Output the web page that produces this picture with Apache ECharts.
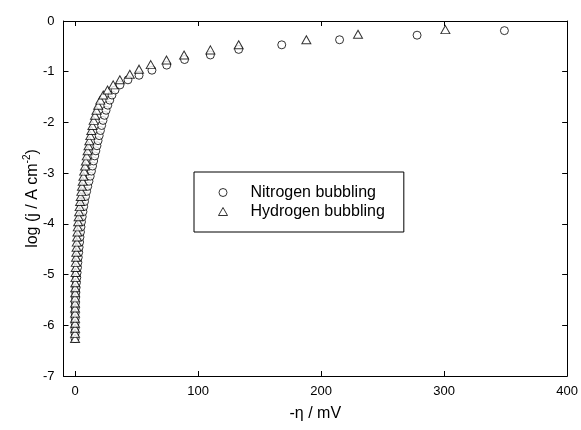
<!DOCTYPE html>
<html>
<head>
<meta charset="utf-8">
<script src="https://cdn.jsdelivr.net/npm/echarts@6/dist/echarts.min.js"></script>
<style>
  html, body { margin: 0; padding: 0; background: #fff; }
  #main { width: 581px; height: 430px; }
</style>
</head>
<body>
<div id="main"></div>
<script>
// -eta (mV) and log j
var nitrogenEta = [0, 0, 0, 0, 0.1, 0.1, 0.2, 0.3, 0.4, 0.6,
  0.8, 1.1, 1.4, 1.7, 2.0, 2.3, 2.6, 3.0, 3.3, 3.7,
  4.0, 4.4, 4.8, 5.2, 5.8, 6.4, 7.0, 7.7, 8.5, 9.4,
  10.3, 11.3, 12.3, 13.3, 14.2, 15.1, 16.0, 16.9, 17.8, 18.7,
  19.6, 20.6, 21.6, 22.7, 23.9, 25.2, 26.6, 28.2, 30.0, 32.5,
  36.5, 43, 52, 62.5, 74.5, 89, 110, 133, 168, 215, 278, 349];
var nitrogenLogJ = [-6.26, -6.16, -6.06, -5.96, -5.86, -5.76, -5.66, -5.56, -5.46, -5.36,
  -5.26, -5.16, -5.06, -4.96, -4.86, -4.76, -4.66, -4.56, -4.46, -4.36,
  -4.26, -4.16, -4.06, -3.96, -3.86, -3.76, -3.66, -3.56, -3.46, -3.36,
  -3.26, -3.16, -3.06, -2.96, -2.86, -2.76, -2.66, -2.56, -2.46, -2.36,
  -2.26, -2.16, -2.06, -1.96, -1.86, -1.76, -1.66, -1.56, -1.46, -1.36,
  -1.26, -1.16, -1.07, -0.97, -0.87, -0.76, -0.67, -0.56, -0.47, -0.37, -0.28, -0.19];

var hydrogenEta = [0, 0, 0, 0, 0, 0, 0, 0, 0, 0.1,
  0.1, 0.2, 0.3, 0.4, 0.5, 0.6, 0.8, 1.0, 1.2, 1.4,
  1.6, 1.9, 2.2, 2.5, 2.9, 3.3, 3.7, 4.1, 4.6, 5.1,
  5.6, 6.2, 6.8, 7.4, 8.1, 8.8, 9.5, 10.2, 10.9, 11.6,
  12.4, 13.2, 14.1, 15.1, 16.2, 17.4, 18.8, 20.5, 22.9, 26.4,
  31, 36.4, 44.5, 52, 61.5, 74.3, 88.6, 110, 133, 188, 230, 301];
var hydrogenLogJ = [-6.26, -6.16, -6.06, -5.96, -5.86, -5.76, -5.66, -5.56, -5.46, -5.36,
  -5.26, -5.16, -5.06, -4.96, -4.86, -4.76, -4.66, -4.56, -4.46, -4.36,
  -4.26, -4.16, -4.06, -3.96, -3.86, -3.76, -3.66, -3.56, -3.46, -3.36,
  -3.26, -3.16, -3.06, -2.96, -2.86, -2.76, -2.66, -2.56, -2.46, -2.36,
  -2.26, -2.16, -2.06, -1.96, -1.86, -1.76, -1.66, -1.56, -1.46, -1.36,
  -1.26, -1.16, -1.05, -0.95, -0.86, -0.77, -0.67, -0.57, -0.47, -0.37, -0.26, -0.17];

var xTicks = [0, 100, 200, 300, 400];
var seriesNames = ['Nitrogen bubbling', 'Hydrogen bubbling'];

function pairs(xs, ys) {
  var out = [];
  for (var i = 0; i < xs.length; i++) out.push([xs[i], ys[i]]);
  return out;
}

var font = 'Liberation Sans, Arial, sans-serif';
var chart = echarts.init(document.getElementById('main'));

var xBase = {
  type: 'value', min: -9.4, max: 400,
  splitLine: { show: false },
  axisLine: { onZero: false, lineStyle: { color: '#000', width: 1 } },
  axisTick: { inside: true, length: 5, customValues: xTicks, lineStyle: { color: '#000' } }
};
var yBase = {
  type: 'value', min: -7, max: 0, interval: 1,
  splitLine: { show: false },
  axisLine: { onZero: false, lineStyle: { color: '#000', width: 1 } },
  axisTick: { inside: true, length: 5, lineStyle: { color: '#000' } }
};

chart.setOption({
  animation: false,
  textStyle: { fontFamily: font },
  grid: { left: 63.5, right: 13, top: 21, bottom: 54 },
  legend: {
    orient: 'vertical',
    left: 194, top: 172,
    data: seriesNames,
    borderColor: '#000', borderWidth: 1,
    padding: [11, 19, 11, 24],
    itemGap: 0,
    itemWidth: 9, itemHeight: 8,
    itemStyle: { color: '#fff', borderColor: '#000', borderWidth: 1 },
    textStyle: { fontFamily: font, fontSize: 16, color: '#000', lineHeight: 19, padding: [0, 0, 0, 18] }
  },
  xAxis: [
    Object.assign({}, xBase, {
      position: 'bottom',
      name: '-η / mV', nameLocation: 'middle', nameGap: 30,
      nameTextStyle: { fontFamily: font, fontSize: 16, color: '#000' },
      axisLabel: { customValues: xTicks, margin: 9, fontFamily: font, fontSize: 13, color: '#000' }
    }),
    Object.assign({}, xBase, { position: 'top', axisLabel: { show: false } })
  ],
  yAxis: [
    Object.assign({}, yBase, {
      position: 'left',
      name: '{a|log (j / A cm}{s|-2}{a|)}', nameLocation: 'middle', nameGap: 21, nameRotate: 90,
      nameMoveOverlap: false,
      nameTextStyle: {
        rich: {
          a: { fontFamily: font, fontSize: 16, color: '#000', lineHeight: 20 },
          s: { fontFamily: font, fontSize: 10, color: '#000', verticalAlign: 'top', lineHeight: 10 }
        }
      },
      axisLabel: { margin: 9, fontFamily: font, fontSize: 13, color: '#000' }
    }),
    Object.assign({}, yBase, { position: 'right', axisLabel: { show: false } })
  ],
  series: [
    {
      name: seriesNames[0], type: 'scatter', symbol: 'circle', symbolSize: 8,
      itemStyle: { color: '#fff', borderColor: '#000', borderWidth: 1 },
      data: pairs(nitrogenEta, nitrogenLogJ)
    },
    {
      name: seriesNames[1], type: 'scatter', symbol: 'triangle', symbolSize: [9, 8],
      itemStyle: { color: '#fff', borderColor: '#000', borderWidth: 1 },
      data: pairs(hydrogenEta, hydrogenLogJ)
    }
  ]
});
</script>
</body>
</html>
